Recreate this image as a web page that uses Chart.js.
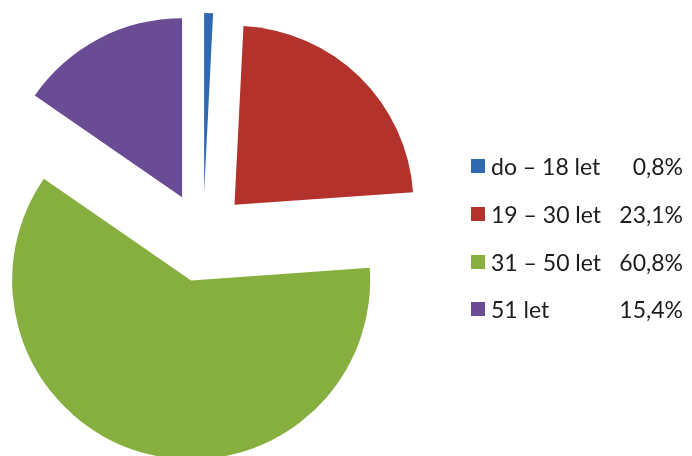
<!DOCTYPE html>
<html>
<head>
<meta charset="utf-8">
<script src="https://cdn.jsdelivr.net/npm/chart.js@4/dist/chart.umd.min.js"></script>
<style>
  html, body { margin: 0; padding: 0; background: #fff; }
  #wrap { position: relative; width: 692px; height: 456px; overflow: hidden; }
  #chart { position: absolute; left: 0; top: 0; }
  #legend { position: absolute; left: 471px; top: 0; width: 212px; font-family: Lato, "Open Sans", sans-serif; font-size: 23px; color: #1c1c1c; }
  .row { position: absolute; left: 0; width: 212px; height: 28px; line-height: 28px; white-space: nowrap; }
  .box { position: absolute; left: 0; top: 7px; width: 14px; height: 14px; }
  .lab { position: absolute; left: 20px; top: 0; }
  .val { position: absolute; right: 0; top: 0; }
</style>
</head>
<body>
<div id="wrap">
  <canvas id="chart" width="692" height="456"></canvas>
  <div id="legend"></div>
</div>
<script>
var ageGroups = ['do \u2013 18 let', '19 \u2013 30 let', '31 \u2013 50 let', '51 let'];
var shares = [0.8, 23.1, 60.8, 15.4];
var sliceColors = ['#2E69B1', '#B3322C', '#87AF3F', '#6A4C95'];

function pct(v) {
    return v.toFixed(1).replace('.', ',') + '%';
}

// pie slice pushed out along its middle angle, keeping its full radius and angle
class ExplodedArc extends Chart.ArcElement {
    draw(ctx) {
        var mid = (this.startAngle + this.endAngle) / 2;
        var d = this.options.offset || 0;
        ctx.save();
        ctx.translate(Math.cos(mid) * d, Math.sin(mid) * d);
        ctx.beginPath();
        ctx.moveTo(this.x, this.y);
        ctx.arc(this.x, this.y, this.outerRadius, this.startAngle, this.endAngle);
        ctx.closePath();
        ctx.fillStyle = this.options.backgroundColor;
        ctx.fill();
        ctx.restore();
    }
}
ExplodedArc.id = 'explodedArc';
Chart.register(ExplodedArc);
Chart.defaults.datasets.pie.dataElementType = 'explodedArc';

var chart = new Chart('chart', {
    type: 'pie',
    data: {
        labels: ageGroups,
        datasets: [{
            data: shares,
            backgroundColor: sliceColors,
            borderWidth: 0,
            offset: 45,
            hoverOffset: 45,
            clip: false
        }]
    },
    options: {
        responsive: false,
        animation: false,
        events: [],
        radius: 179,
        layout: { padding: { left: 0, right: 286, top: 18, bottom: 0 } },
        plugins: {
            legend: { display: false },
            tooltip: { enabled: false }
        }
    }
});

// legend with the value column on the right
var legend = document.getElementById('legend');
var rowCenters = [166, 214, 262, 309];
ageGroups.forEach(function (name, i) {
    var row = document.createElement('div');
    row.className = 'row';
    row.style.top = (rowCenters[i] - 14) + 'px';
    row.innerHTML = '<span class="box" style="background:' + sliceColors[i] + '"></span>' +
        '<span class="lab">' + name + '</span>' +
        '<span class="val">' + pct(shares[i]) + '</span>';
    legend.appendChild(row);
});
</script>
</body>
</html>
